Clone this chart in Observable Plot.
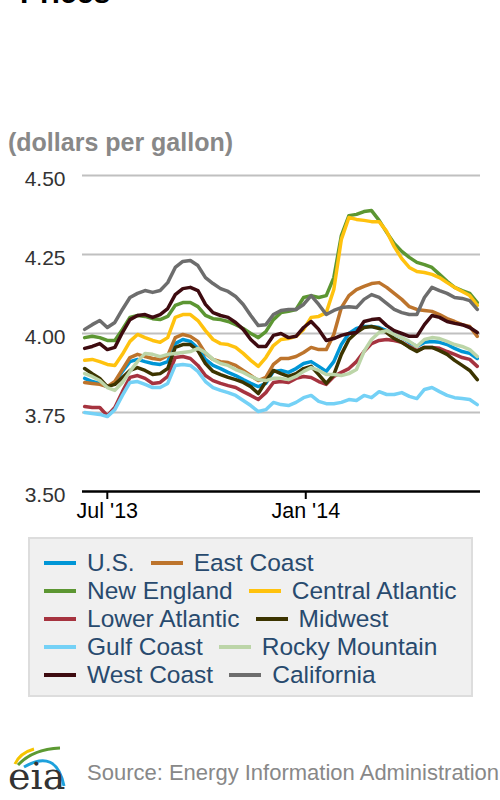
<!DOCTYPE html>
<html><head><meta charset="utf-8">
<script src="https://cdn.jsdelivr.net/npm/d3@7"></script>
<script src="https://cdn.jsdelivr.net/npm/@observablehq/plot@0.6"></script>
<style>
body{margin:0;width:500px;height:800px;overflow:hidden;position:relative;background:#fff;font-family:"Liberation Sans",Arial,sans-serif;}
#title{position:absolute;left:20px;top:-22px;font-weight:bold;font-size:30px;line-height:30px;color:#000;white-space:nowrap;}
#sub{position:absolute;left:8px;top:130px;font-weight:bold;font-size:25px;line-height:25px;color:#888;white-space:nowrap;}
#chart{position:absolute;left:0;top:160px;}
#legend{position:absolute;left:28px;top:537px;width:445px;height:160px;box-sizing:border-box;background:#f0f0f0;border:2px solid #ddd;padding:10px 0 0 14px;}
.row{height:28px;display:flex;align-items:center;white-space:nowrap;}
.item{display:flex;align-items:center;margin-right:16px;font-size:24.5px;line-height:28px;color:#284a6e;}
.sw{width:32px;height:4px;margin-right:11px;}
#src{position:absolute;left:87px;top:761px;font-size:22px;line-height:24px;color:#888;white-space:nowrap;}
#logo{position:absolute;left:0;top:740px;}
</style></head><body>
<div id="title">Prices</div>
<div id="sub">(dollars per gallon)</div>
<div id="chart"></div>
<div id="legend"></div>
<svg id="logo" width="75" height="58" viewBox="0 0 75 58">
  <path d="M15,24 Q20,13 34,9" fill="none" stroke="#f5c400" stroke-width="3"/>
  <path d="M18,25 Q33,9 60,8" fill="none" stroke="#5c9a32" stroke-width="3"/>
  <path d="M24,27 Q56,8 64,46" fill="none" stroke="#1ea1dc" stroke-width="3"/>
  <text x="8" y="49" font-family="'DejaVu Serif','Liberation Serif',serif" font-size="38" fill="#333">eia</text>
</svg>
<div id="src">Source: Energy Information Administration</div>
<script>
const seriesNames = ["U.S.","East Coast","New England","Central Atlantic","Lower Atlantic","Midwest","Gulf Coast","Rocky Mountain","West Coast","California"];
const seriesColors = ["#0096d6","#bd742c","#5c9632","#ffc20e","#a6333f","#3c3400","#74d1f6","#bcd5a8","#3e0b10","#6d6d6d"];

// weekly (Mondays) from 2013-06-10 to 2014-06-09
const weeks = d3.utcMonday.range(new Date(Date.UTC(2013,5,10)), new Date(Date.UTC(2014,5,10)));

const us = [3.858,3.848,3.842,3.832,3.842,3.880,3.911,3.918,3.911,3.905,3.902,3.911,3.968,3.981,3.975,3.953,3.918,3.899,3.889,3.877,3.867,3.854,3.842,3.832,3.842,3.880,3.883,3.877,3.889,3.905,3.911,3.896,3.880,3.911,3.965,4.000,4.016,4.022,4.022,4.019,4.009,3.997,3.987,3.972,3.959,3.972,3.975,3.972,3.965,3.953,3.943,3.937,3.921];
const eastCoast = [3.845,3.842,3.839,3.832,3.848,3.886,3.924,3.934,3.927,3.921,3.918,3.930,3.987,3.997,3.991,3.975,3.937,3.918,3.911,3.908,3.899,3.883,3.867,3.851,3.861,3.902,3.921,3.921,3.927,3.940,3.956,3.949,3.949,3.997,4.082,4.120,4.139,4.149,4.158,4.161,4.146,4.127,4.108,4.085,4.076,4.073,4.070,4.060,4.047,4.038,4.028,4.022,3.991];
const newEngland = [3.987,3.991,3.987,3.978,3.978,4.013,4.051,4.057,4.054,4.047,4.044,4.054,4.089,4.098,4.098,4.085,4.057,4.047,4.044,4.038,4.028,4.016,4.000,3.987,4.006,4.044,4.066,4.070,4.076,4.114,4.120,4.114,4.120,4.177,4.310,4.373,4.377,4.386,4.389,4.358,4.320,4.285,4.260,4.241,4.225,4.218,4.209,4.187,4.165,4.146,4.136,4.127,4.098];
const centralAtlantic = [3.915,3.918,3.911,3.902,3.899,3.934,3.975,3.997,3.987,3.978,3.972,3.987,4.051,4.060,4.060,4.041,4.009,3.981,3.968,3.965,3.956,3.937,3.915,3.896,3.924,3.962,3.981,3.984,3.991,4.013,4.051,4.054,4.066,4.139,4.298,4.367,4.361,4.358,4.354,4.354,4.323,4.275,4.237,4.209,4.196,4.193,4.187,4.177,4.161,4.146,4.133,4.120,4.089];
const lowerAtlantic = [3.769,3.766,3.766,3.740,3.766,3.816,3.861,3.867,3.858,3.842,3.845,3.864,3.924,3.927,3.921,3.899,3.867,3.851,3.842,3.835,3.829,3.816,3.804,3.791,3.813,3.845,3.848,3.845,3.858,3.864,3.861,3.848,3.839,3.864,3.877,3.889,3.911,3.943,3.968,3.978,3.981,3.978,3.972,3.959,3.946,3.956,3.956,3.953,3.943,3.934,3.924,3.918,3.896];
const midwest = [3.889,3.873,3.858,3.832,3.839,3.861,3.883,3.892,3.883,3.870,3.873,3.889,3.956,3.965,3.965,3.946,3.905,3.880,3.870,3.861,3.854,3.845,3.832,3.810,3.848,3.883,3.873,3.864,3.873,3.889,3.896,3.870,3.842,3.870,3.934,3.981,4.003,4.019,4.022,4.016,4.003,3.984,3.972,3.956,3.943,3.956,3.956,3.946,3.934,3.915,3.899,3.883,3.854];
const gulfCoast = [3.750,3.747,3.744,3.737,3.759,3.804,3.845,3.848,3.839,3.829,3.829,3.842,3.899,3.902,3.899,3.880,3.848,3.829,3.820,3.813,3.804,3.788,3.772,3.753,3.759,3.782,3.775,3.772,3.782,3.797,3.804,3.785,3.778,3.778,3.782,3.791,3.788,3.804,3.797,3.816,3.807,3.807,3.813,3.801,3.794,3.823,3.829,3.816,3.804,3.797,3.794,3.791,3.775];
const rockyMountain = [3.873,3.864,3.851,3.829,3.820,3.845,3.880,3.911,3.937,3.934,3.927,3.934,3.937,3.940,3.943,3.953,3.940,3.918,3.905,3.899,3.886,3.877,3.864,3.854,3.851,3.858,3.858,3.854,3.864,3.880,3.892,3.883,3.870,3.870,3.867,3.873,3.886,3.943,3.981,4.003,4.009,3.997,3.987,3.975,3.959,3.981,3.987,3.984,3.975,3.965,3.959,3.949,3.927];
const westCoast = [3.953,3.959,3.968,3.949,3.956,4.003,4.044,4.057,4.060,4.051,4.060,4.079,4.123,4.142,4.146,4.136,4.092,4.066,4.057,4.051,4.035,4.013,3.981,3.959,3.959,3.994,4.000,3.987,3.991,4.019,4.038,4.013,3.978,3.984,3.994,4.000,4.003,4.038,4.044,4.047,4.025,4.009,4.000,3.991,3.991,4.028,4.057,4.051,4.038,4.032,4.028,4.019,4.003];
const california = [4.013,4.028,4.041,4.019,4.035,4.076,4.114,4.127,4.136,4.130,4.136,4.161,4.209,4.228,4.231,4.215,4.177,4.158,4.142,4.133,4.117,4.092,4.057,4.025,4.028,4.060,4.073,4.076,4.076,4.092,4.120,4.092,4.060,4.073,4.082,4.085,4.082,4.108,4.123,4.114,4.095,4.076,4.066,4.060,4.060,4.114,4.146,4.136,4.127,4.114,4.111,4.104,4.076];

const yTicks = [3.50, 3.75, 4.00, 4.25, 4.50];
const xTicks = [new Date(Date.UTC(2013,6,1)), new Date(Date.UTC(2014,0,1))];
const xTickLabels = ["Jul '13", "Jan '14"];

const allSeries = [us,eastCoast,newEngland,centralAtlantic,lowerAtlantic,midwest,gulfCoast,rockyMountain,westCoast,california];
const data = [];
allSeries.forEach((vals, si) => vals.forEach((v, i) => data.push({series: seriesNames[si], date: weeks[i], value: v})));

const chart = Plot.plot({
  width: 500,
  height: 371,
  marginTop: 15,
  marginBottom: 40,
  marginLeft: 82,
  marginRight: 20,
  style: {fontFamily: "'Liberation Sans', Arial, sans-serif", background: "transparent", overflow: "visible"},
  x: {type: "utc", domain: [new Date(Date.UTC(2013,5,8)), new Date(Date.UTC(2014,5,12))]},
  y: {domain: [3.5, 4.5]},
  color: {domain: seriesNames, range: seriesColors},
  marks: [
    Plot.gridY(yTicks.slice(1), {stroke: "#c0c0c0", strokeOpacity: 1, strokeWidth: 2}),
    Plot.axisY({ticks: yTicks, tickSize: 0, tickPadding: 17, dy: 4, tickFormat: d3.format(".2f"), fontSize: 21, fill: "#333", label: null}),
    Plot.line(data, {x: "date", y: "value", z: "series", stroke: "series", strokeWidth: 3.5, strokeLinejoin: "round", strokeLinecap: "round"}),
    Plot.ruleY([3.5], {stroke: "#000", strokeWidth: 2.5}),
    Plot.axisX({ticks: xTicks, tickSize: 8, tickPadding: 3, strokeWidth: 2, stroke: "#000", tickFormat: (d, i) => xTickLabels[i], fontSize: 21.5, fill: "#000", label: null})
  ]
});
document.getElementById("chart").appendChild(chart);

// legend (two items per row)
const legend = document.getElementById("legend");
for (let r = 0; r < seriesNames.length; r += 2) {
  const row = document.createElement("div");
  row.className = "row";
  for (let k = r; k < r + 2; k++) {
    const it = document.createElement("div");
    it.className = "item";
    const sw = document.createElement("span");
    sw.className = "sw";
    sw.style.background = seriesColors[k];
    it.appendChild(sw);
    it.appendChild(document.createTextNode(seriesNames[k]));
    row.appendChild(it);
  }
  legend.appendChild(row);
}
</script>
</body></html>
